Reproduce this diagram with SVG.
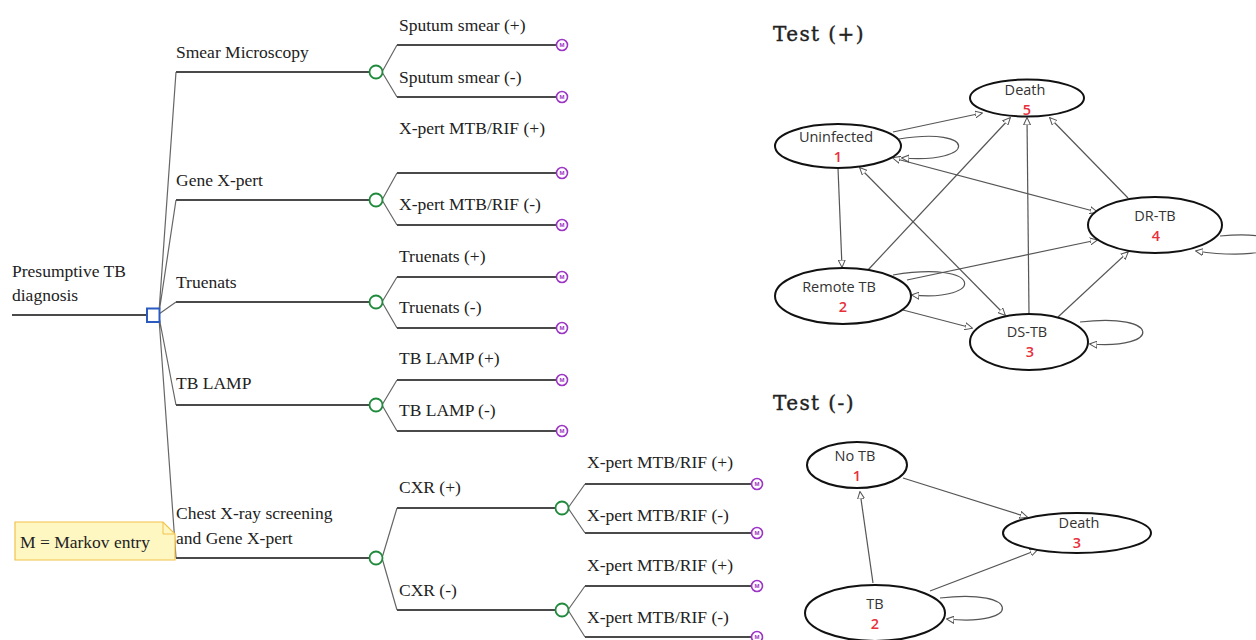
<svg xmlns="http://www.w3.org/2000/svg" width="1256" height="640" viewBox="0 0 1256 640">
<style>
.t{font-family:"Liberation Serif","Times New Roman",serif;font-size:17.5px;fill:#222}
.h{font-family:"DejaVu Serif","Liberation Serif",serif;font-size:20px;fill:#222;letter-spacing:1.4px;stroke:#222;stroke-width:0.4}
.ln{stroke:#4a4a4a;stroke-width:1.8;fill:none}
.dg{stroke:#666;stroke-width:1.2;fill:none}
.ch{fill:#fff;stroke:#1f8a3c;stroke-width:1.8}
.mk{fill:#fff;stroke:#9b35c4;stroke-width:1.6}
.mt{font-family:"Liberation Sans",Arial,sans-serif;font-size:6px;fill:#9b35c4;text-anchor:middle;font-weight:bold}
.el{fill:#fff;stroke:#111;stroke-width:2}
.nt{font-family:"Open Sans","Noto Sans",sans-serif;font-size:14.5px;fill:#333;text-anchor:middle}
.nn{font-family:"Open Sans","Noto Sans",sans-serif;font-size:14.5px;font-weight:600;fill:#e8303a;text-anchor:middle}
.ed{stroke:#555;stroke-width:1.2;fill:none;marker-end:url(#ah)}
.bi{marker-start:url(#ah)}
</style>
<defs>
<marker id="ah" viewBox="0 0 8 8" refX="7" refY="4" markerWidth="8" markerHeight="8" markerUnits="userSpaceOnUse" orient="auto-start-reverse">
<path d="M0,0.5 L7.5,4 L0,7.5 z" fill="#fff" stroke="#555" stroke-width="1"/>
</marker>
<g id="mk"><circle r="5.5" class="mk"/><text y="2.2" class="mt">M</text></g>
</defs>

<g id="tree-connectors">
<line x1="12" y1="315" x2="147" y2="315" class="ln"/>
<path class="dg" d="M159,312 L176,72 M159,313 L176,200 M159,314 L176,302 M159,317 L176,405 M159,318 L176,558"/>
<path class="ln" d="M176,72 H369 M176,200 H369 M176,302 H369 M176,405 H369 M176,558 H369"/>
<path class="dg" d="M382,72 L397,45 M382,72 L397,97 M382,200 L397,173 M382,200 L397,225 M382,302 L397,277 M382,302 L397,328 M382,405 L397,380 M382,405 L397,431 M382,558 L397,508 M382,558 L397,610 M568,508 L585,484 M568,508 L585,533 M568,610 L585,586 M568,610 L585,637"/>
<path class="ln" d="M397,45 H556 M397,97 H556 M397,173 H556 M397,225 H556 M397,277 H556 M397,328 H556 M397,380 H556 M397,431 H556 M397,508 H556 M397,610 H556 M585,484 H751 M585,533 H751 M585,586 H751 M585,637 H751"/>
</g>

<g id="root">
<text class="t" x="12" y="277">Presumptive TB</text>
<text class="t" x="12" y="301">diagnosis</text>
<rect x="147" y="308.5" width="12.5" height="13.5" fill="#fff" stroke="#2b5bbf" stroke-width="2"/>
</g>

<g id="smear">
<text class="t" x="176" y="58">Smear Microscopy</text>
<circle cx="376" cy="72" r="6.5" class="ch"/>
<text class="t" x="399" y="31">Sputum smear (+)</text>
<text class="t" x="399" y="83">Sputum smear (-)</text>
<use href="#mk" x="562" y="45"/><use href="#mk" x="562" y="97"/>
</g>
<g id="gene">
<text class="t" x="176" y="186">Gene X-pert</text>
<circle cx="376" cy="200" r="6.5" class="ch"/>
<text class="t" x="399" y="134">X-pert MTB/RIF (+)</text>
<text class="t" x="399" y="210">X-pert MTB/RIF (-)</text>
<use href="#mk" x="562" y="173"/><use href="#mk" x="562" y="225"/>
</g>
<g id="truenats">
<text class="t" x="176" y="288">Truenats</text>
<circle cx="376" cy="302" r="6.5" class="ch"/>
<text class="t" x="399" y="262">Truenats (+)</text>
<text class="t" x="399" y="313">Truenats (-)</text>
<use href="#mk" x="562" y="277"/><use href="#mk" x="562" y="328"/>
</g>
<g id="lamp">
<text class="t" x="176" y="389">TB LAMP</text>
<circle cx="376" cy="405" r="6.5" class="ch"/>
<text class="t" x="399" y="364">TB LAMP (+)</text>
<text class="t" x="399" y="416">TB LAMP (-)</text>
<use href="#mk" x="562" y="380"/><use href="#mk" x="562" y="431"/>
</g>
<g id="cxr">
<text class="t" x="176" y="519">Chest X-ray screening</text>
<text class="t" x="176" y="544">and Gene X-pert</text>
<circle cx="376" cy="558" r="6.5" class="ch"/>
<text class="t" x="399" y="493">CXR (+)</text>
<text class="t" x="399" y="596">CXR (-)</text>
</g>
<g id="cxr-pos">
<circle cx="562" cy="508" r="6.5" class="ch"/>
<text class="t" x="587" y="468">X-pert MTB/RIF (+)</text>
<text class="t" x="587" y="521">X-pert MTB/RIF (-)</text>
<use href="#mk" x="757" y="484"/><use href="#mk" x="757" y="533"/>
</g>
<g id="cxr-neg">
<circle cx="562" cy="610" r="6.5" class="ch"/>
<text class="t" x="587" y="571">X-pert MTB/RIF (+)</text>
<text class="t" x="587" y="623">X-pert MTB/RIF (-)</text>
<use href="#mk" x="757" y="586"/><use href="#mk" x="757" y="637"/>
</g>

<g id="legend">
<path d="M15,522 H163 L175,534 V560 H15 Z" fill="#fff7c2" stroke="#f1c24a" stroke-width="1.2"/>
<path d="M163,522 V534 H175" fill="none" stroke="#f1c24a" stroke-width="1"/>
<text class="t" x="20" y="548">M = Markov entry</text>
</g>

<text class="h" x="773" y="41">Test (+)</text>
<text class="h" x="773" y="410">Test (-)</text>

<g id="markov-connectors">
<path class="ed" d="M893,132 L982,113"/>
<path class="ed" d="M899,139 C978,126 978,164 902,158"/>
<path class="ed" d="M838,168 L842,267"/>
<path class="ed" d="M868,270 L1010,118"/>
<path class="ed" d="M893,275 C985,260 985,302 912,295"/>
<path class="ed" d="M907,280 L1097,240"/>
<path class="ed" d="M903,310 L972,328"/>
<path class="ed bi" d="M860,168 L1005,315"/>
<path class="ed bi" d="M893,158 L1097,212"/>
<path class="ed" d="M1029,313 L1027,118"/>
<path class="ed" d="M1128,198 L1050,118"/>
<path class="ed" d="M1058,317 L1128,252"/>
<path class="ed" d="M1080,322 C1162,312 1162,350 1090,344"/>
<path class="ed" d="M1220,236 C1300,228 1290,265 1196,251"/>
<path class="ed" d="M903,478 L1027,517"/>
<path class="ed" d="M873,583 L860,492"/>
<path class="ed" d="M930,591 L1037,550"/>
<path class="ed" d="M940,598 C1022,588 1022,627 947,619"/>
</g>

<g id="death5"><ellipse cx="1027" cy="98" rx="57" ry="18.5" class="el"/><text class="nt" x="1025" y="95">Death</text><text class="nn" x="1027" y="114.5">5</text></g>
<g id="uninfected1"><ellipse cx="838" cy="146" rx="63" ry="22" class="el"/><text class="nt" x="836" y="142">Uninfected</text><text class="nn" x="838" y="161.5">1</text></g>
<g id="drtb4"><ellipse cx="1155" cy="225" rx="67" ry="28" class="el"/><text class="nt" x="1155" y="221">DR-TB</text><text class="nn" x="1156" y="240.5">4</text></g>
<g id="remote2"><ellipse cx="843" cy="296" rx="68" ry="28" class="el"/><text class="nt" x="839" y="292">Remote TB</text><text class="nn" x="843" y="311.5">2</text></g>
<g id="dstb3"><ellipse cx="1029" cy="342" rx="59" ry="28" class="el"/><text class="nt" x="1027" y="337">DS-TB</text><text class="nn" x="1030" y="356.5">3</text></g>

<g id="notb1"><ellipse cx="857" cy="465" rx="50" ry="23" class="el"/><text class="nt" x="855" y="461">No TB</text><text class="nn" x="857" y="480.5">1</text></g>
<g id="death3"><ellipse cx="1077" cy="533" rx="74" ry="20" class="el"/><text class="nt" x="1079" y="528">Death</text><text class="nn" x="1077" y="547.5">3</text></g>
<g id="tb2"><ellipse cx="875" cy="613" rx="70" ry="28" class="el"/><text class="nt" x="875" y="609">TB</text><text class="nn" x="875" y="628.5">2</text></g>
</svg>
